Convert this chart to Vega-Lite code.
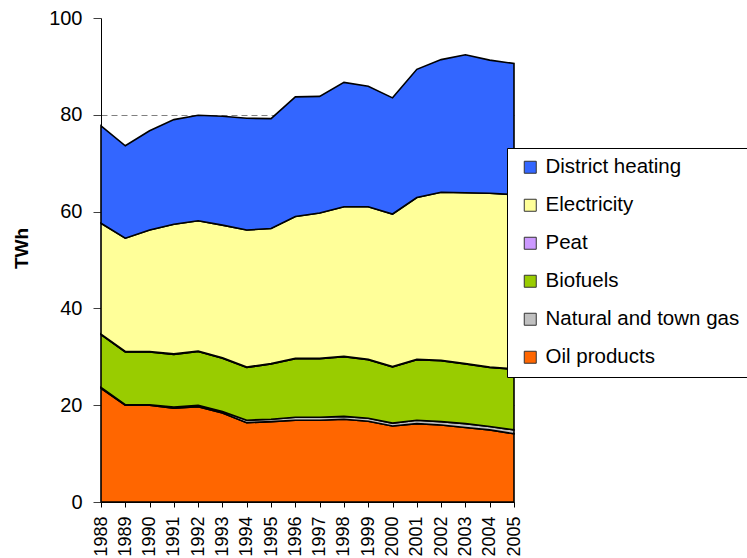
{
  "$schema": "https://vega.github.io/schema/vega-lite/v6.json",
  "width": 413,
  "height": 484,
  "autosize": "none",
  "padding": {"left": 101, "top": 18, "right": 233, "bottom": 56},
  "background": "white",
  "config": {"font": "Liberation Sans", "view": {"stroke": null}},
  "data": {
    "values": [
      {"year": 1988, "source": "Oil products", "twh": 23.5},
      {"year": 1988, "source": "Natural and town gas", "twh": 0.2},
      {"year": 1988, "source": "Biofuels", "twh": 10.9},
      {"year": 1988, "source": "Peat", "twh": 0.1},
      {"year": 1988, "source": "Electricity", "twh": 22.9},
      {"year": 1988, "source": "District heating", "twh": 20.1},
      {"year": 1989, "source": "Oil products", "twh": 20.0},
      {"year": 1989, "source": "Natural and town gas", "twh": 0.1},
      {"year": 1989, "source": "Biofuels", "twh": 10.9},
      {"year": 1989, "source": "Peat", "twh": 0.1},
      {"year": 1989, "source": "Electricity", "twh": 23.4},
      {"year": 1989, "source": "District heating", "twh": 19.1},
      {"year": 1990, "source": "Oil products", "twh": 20.0},
      {"year": 1990, "source": "Natural and town gas", "twh": 0.1},
      {"year": 1990, "source": "Biofuels", "twh": 10.9},
      {"year": 1990, "source": "Peat", "twh": 0.1},
      {"year": 1990, "source": "Electricity", "twh": 25.1},
      {"year": 1990, "source": "District heating", "twh": 20.5},
      {"year": 1991, "source": "Oil products", "twh": 19.4},
      {"year": 1991, "source": "Natural and town gas", "twh": 0.2},
      {"year": 1991, "source": "Biofuels", "twh": 10.9},
      {"year": 1991, "source": "Peat", "twh": 0.1},
      {"year": 1991, "source": "Electricity", "twh": 26.8},
      {"year": 1991, "source": "District heating", "twh": 21.6},
      {"year": 1992, "source": "Oil products", "twh": 19.7},
      {"year": 1992, "source": "Natural and town gas", "twh": 0.3},
      {"year": 1992, "source": "Biofuels", "twh": 11.1},
      {"year": 1992, "source": "Peat", "twh": 0.1},
      {"year": 1992, "source": "Electricity", "twh": 26.9},
      {"year": 1992, "source": "District heating", "twh": 21.8},
      {"year": 1993, "source": "Oil products", "twh": 18.4},
      {"year": 1993, "source": "Natural and town gas", "twh": 0.3},
      {"year": 1993, "source": "Biofuels", "twh": 11.0},
      {"year": 1993, "source": "Peat", "twh": 0.1},
      {"year": 1993, "source": "Electricity", "twh": 27.4},
      {"year": 1993, "source": "District heating", "twh": 22.5},
      {"year": 1994, "source": "Oil products", "twh": 16.4},
      {"year": 1994, "source": "Natural and town gas", "twh": 0.5},
      {"year": 1994, "source": "Biofuels", "twh": 10.9},
      {"year": 1994, "source": "Peat", "twh": 0.1},
      {"year": 1994, "source": "Electricity", "twh": 28.3},
      {"year": 1994, "source": "District heating", "twh": 23.1},
      {"year": 1995, "source": "Oil products", "twh": 16.6},
      {"year": 1995, "source": "Natural and town gas", "twh": 0.5},
      {"year": 1995, "source": "Biofuels", "twh": 11.4},
      {"year": 1995, "source": "Peat", "twh": 0.1},
      {"year": 1995, "source": "Electricity", "twh": 27.9},
      {"year": 1995, "source": "District heating", "twh": 22.7},
      {"year": 1996, "source": "Oil products", "twh": 16.9},
      {"year": 1996, "source": "Natural and town gas", "twh": 0.6},
      {"year": 1996, "source": "Biofuels", "twh": 12.1},
      {"year": 1996, "source": "Peat", "twh": 0.1},
      {"year": 1996, "source": "Electricity", "twh": 29.3},
      {"year": 1996, "source": "District heating", "twh": 24.7},
      {"year": 1997, "source": "Oil products", "twh": 16.9},
      {"year": 1997, "source": "Natural and town gas", "twh": 0.6},
      {"year": 1997, "source": "Biofuels", "twh": 12.1},
      {"year": 1997, "source": "Peat", "twh": 0.1},
      {"year": 1997, "source": "Electricity", "twh": 30.0},
      {"year": 1997, "source": "District heating", "twh": 24.1},
      {"year": 1998, "source": "Oil products", "twh": 17.1},
      {"year": 1998, "source": "Natural and town gas", "twh": 0.6},
      {"year": 1998, "source": "Biofuels", "twh": 12.3},
      {"year": 1998, "source": "Peat", "twh": 0.1},
      {"year": 1998, "source": "Electricity", "twh": 30.9},
      {"year": 1998, "source": "District heating", "twh": 25.7},
      {"year": 1999, "source": "Oil products", "twh": 16.7},
      {"year": 1999, "source": "Natural and town gas", "twh": 0.6},
      {"year": 1999, "source": "Biofuels", "twh": 12.1},
      {"year": 1999, "source": "Peat", "twh": 0.1},
      {"year": 1999, "source": "Electricity", "twh": 31.5},
      {"year": 1999, "source": "District heating", "twh": 24.9},
      {"year": 2000, "source": "Oil products", "twh": 15.7},
      {"year": 2000, "source": "Natural and town gas", "twh": 0.6},
      {"year": 2000, "source": "Biofuels", "twh": 11.6},
      {"year": 2000, "source": "Peat", "twh": 0.1},
      {"year": 2000, "source": "Electricity", "twh": 31.5},
      {"year": 2000, "source": "District heating", "twh": 24.0},
      {"year": 2001, "source": "Oil products", "twh": 16.2},
      {"year": 2001, "source": "Natural and town gas", "twh": 0.7},
      {"year": 2001, "source": "Biofuels", "twh": 12.5},
      {"year": 2001, "source": "Peat", "twh": 0.1},
      {"year": 2001, "source": "Electricity", "twh": 33.4},
      {"year": 2001, "source": "District heating", "twh": 26.5},
      {"year": 2002, "source": "Oil products", "twh": 15.9},
      {"year": 2002, "source": "Natural and town gas", "twh": 0.7},
      {"year": 2002, "source": "Biofuels", "twh": 12.6},
      {"year": 2002, "source": "Peat", "twh": 0.1},
      {"year": 2002, "source": "Electricity", "twh": 34.7},
      {"year": 2002, "source": "District heating", "twh": 27.4},
      {"year": 2003, "source": "Oil products", "twh": 15.4},
      {"year": 2003, "source": "Natural and town gas", "twh": 0.8},
      {"year": 2003, "source": "Biofuels", "twh": 12.3},
      {"year": 2003, "source": "Peat", "twh": 0.1},
      {"year": 2003, "source": "Electricity", "twh": 35.3},
      {"year": 2003, "source": "District heating", "twh": 28.5},
      {"year": 2004, "source": "Oil products", "twh": 14.9},
      {"year": 2004, "source": "Natural and town gas", "twh": 0.7},
      {"year": 2004, "source": "Biofuels", "twh": 12.2},
      {"year": 2004, "source": "Peat", "twh": 0.1},
      {"year": 2004, "source": "Electricity", "twh": 35.9},
      {"year": 2004, "source": "District heating", "twh": 27.5},
      {"year": 2005, "source": "Oil products", "twh": 14.1},
      {"year": 2005, "source": "Natural and town gas", "twh": 0.8},
      {"year": 2005, "source": "Biofuels", "twh": 12.5},
      {"year": 2005, "source": "Peat", "twh": 0.1},
      {"year": 2005, "source": "Electricity", "twh": 36.0},
      {"year": 2005, "source": "District heating", "twh": 27.1}
    ]
  },
  "transform": [
    {"calculate": "indexof(['Oil products', 'Natural and town gas', 'Biofuels', 'Peat', 'Electricity', 'District heating'], datum.source)", "as": "stackOrder"}
  ],
  "mark": {"type": "area", "stroke": "black", "strokeWidth": 1.6, "strokeJoin": "miter", "opacity": 1},
  "encoding": {
    "x": {
      "field": "year",
      "type": "ordinal",
      "scale": {"padding": 0},
      "axis": {
        "title": null,
        "labelAngle": -90,
        "labelFontSize": 18,
        "labelColor": "black",
        "labelPadding": 9,
        "tickSize": 5,
        "tickColor": "black",
        "domainColor": "black",
        "grid": false
      }
    },
    "y": {
      "field": "twh",
      "type": "quantitative",
      "stack": "zero",
      "scale": {"domain": [0, 100], "nice": false},
      "axis": {
        "values": [0, 20, 40, 60, 80, 100],
        "title": "TWh",
        "titleFontSize": 19,
        "titleFontWeight": "bold",
        "titleColor": "black",
        "titleAngle": -90,
        "titleAlign": "center",
        "titleBaseline": "middle",
        "titleX": -80,
        "titleY": 230,
        "labelFontSize": 20,
        "labelColor": "black",
        "labelPadding": 11,
        "tickSize": 8,
        "tickColor": "#404040",
        "domainColor": "black",
        "grid": true,
        "gridColor": "#808080",
        "gridDash": [6, 4],
        "gridOpacity": {"condition": {"test": "datum.value === 100", "value": 0}, "value": 1}
      }
    },
    "color": {
      "field": "source",
      "type": "nominal",
      "scale": {
        "domain": ["District heating", "Electricity", "Peat", "Biofuels", "Natural and town gas", "Oil products"],
        "range": ["#3366FF", "#FFFF99", "#CC99FF", "#99CC00", "#C0C0C0", "#FF6600"]
      },
      "legend": {
        "orient": "none",
        "legendX": 406,
        "legendY": 130,
        "title": null,
        "strokeColor": "black",
        "fillColor": "white",
        "padding": 9,
        "symbolType": "square",
        "symbolSize": 144,
        "symbolStrokeColor": "#333333",
        "symbolStrokeWidth": 1,
        "symbolOpacity": 1,
        "symbolOffset": 4,
        "labelFontSize": 20.5,
        "labelLimit": 400,
        "labelColor": "black",
        "labelOffset": 5,
        "rowPadding": 17
      }
    },
    "order": {"field": "stackOrder"}
  }
}
